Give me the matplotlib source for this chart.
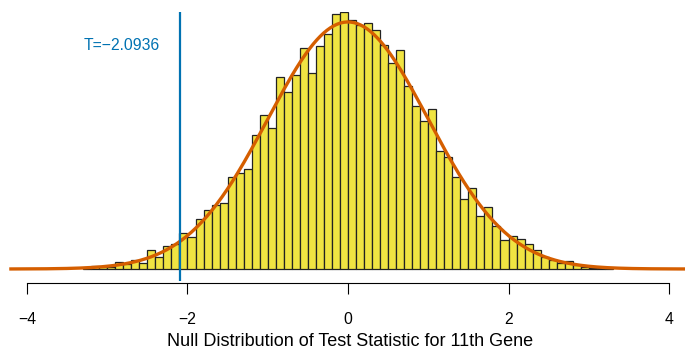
import numpy as np
import matplotlib
matplotlib.use("Agg")
import matplotlib.pyplot as plt
import matplotlib.transforms as mtransforms

plt.rcParams['font.family'] = ['Liberation Sans', 'DejaVu Sans']

# resampled null distribution of the test statistic (density, bin width 0.1)
bin_left = np.round(np.arange(-3.3, 3.25, 0.1), 1)
dens = [0.001, 0.005, 0.004, 0.003, 0.011, 0.008, 0.015, 0.010, 0.031, 0.019,
        0.037, 0.040, 0.058, 0.051, 0.081, 0.096, 0.103, 0.106, 0.148, 0.155,
        0.161, 0.216, 0.248, 0.227, 0.310, 0.286, 0.314, 0.357, 0.317, 0.360,
        0.380, 0.411, 0.415, 0.402, 0.394, 0.398, 0.386, 0.362, 0.333, 0.353,
        0.295, 0.264, 0.239, 0.258, 0.191, 0.181, 0.148, 0.113, 0.131, 0.085,
        0.100, 0.069, 0.047, 0.053, 0.048, 0.040, 0.030, 0.020, 0.014, 0.009,
        0.013, 0.006, 0.004, 0.002, 0.001, 0.001]
T_obs = -2.0936
xticks = [-4, -2, 0, 2, 4]

fig = plt.figure(figsize=(6.85, 3.52), dpi=100)
ax = fig.add_axes([0, 0.2017, 1, 0.7642])

ax.bar(bin_left, dens, width=0.1, align='edge', color='#F0E442',
       edgecolor='#222222', linewidth=0.9)

# theoretical N(0,1) null
xs = np.linspace(-4.2, 4.2, 400)
ax.plot(xs, np.exp(-xs**2 / 2) / np.sqrt(2 * np.pi), color='#D55E00', lw=2.4)

ax.axvline(T_obs, color='#0072B2', lw=1.6)
ax.text(T_obs - 0.25, 0.3607, f"T={T_obs:.4f}".replace('-', '\u2212'),
        color='#0072B2', fontsize=11.3, ha='right', va='center')

ax.set_xlim(-4.336, 4.199)
ax.set_ylim(-0.01939, 0.415)
for s in ['left', 'right', 'top']:
    ax.spines[s].set_visible(False)
ax.spines['bottom'].set_bounds(-4, 4)
ax.spines['bottom'].set_position(('outward', 1.5))
ax.set_yticks([])
ax.set_xticks(xticks)
ax.set_xticklabels([str(t).replace('-', '\u2212') for t in xticks])
ax.tick_params(axis='x', length=8, width=0.8, pad=12.5, labelsize=11.3)

trans = mtransforms.blended_transform_factory(ax.transData, ax.transAxes)
ax.text(0.02, -0.226, "Null Distribution of Test Statistic for 11th Gene",
        transform=trans, ha='center', va='center', fontsize=13)

fig.savefig('out.png', dpi=100)
